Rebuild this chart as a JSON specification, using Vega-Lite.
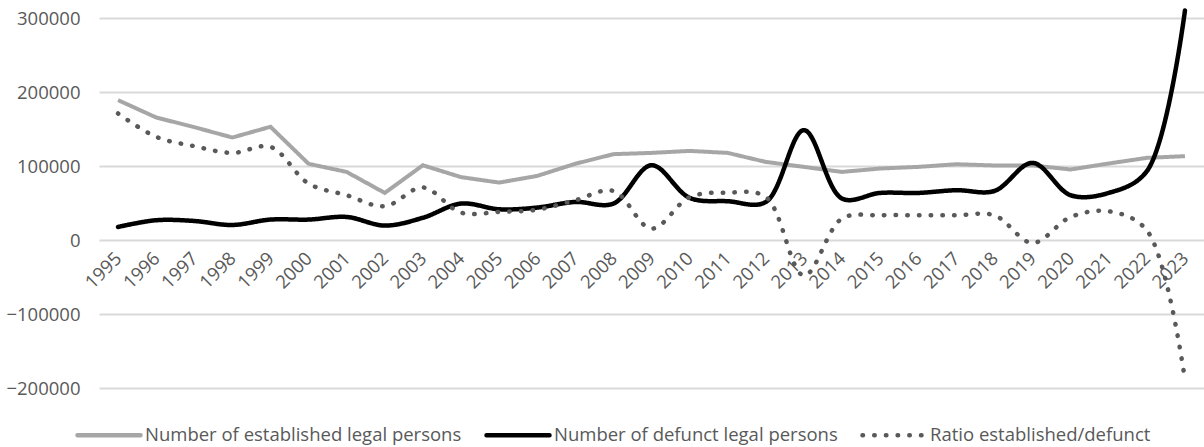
{
  "$schema": "https://vega.github.io/schema/vega-lite/v6.json",
  "width": 1105,
  "height": 370,
  "padding": {"left": 99, "top": 18, "right": 0, "bottom": 59},
  "autosize": {"type": "none"},
  "background": "white",
  "config": {
    "view": {"stroke": null},
    "font": "Open Sans",
    "axis": {"labelFont": "Open Sans", "labelColor": "#595959", "labelFontSize": 18.5}
  },
  "data": {
    "values": [
      {"year": "1995", "established": 189000, "defunct": 17600, "ratio": 171000},
      {"year": "1996", "established": 165600, "defunct": 26700, "ratio": 139400},
      {"year": "1997", "established": 152500, "defunct": 25700, "ratio": 126800},
      {"year": "1998", "established": 138500, "defunct": 20300, "ratio": 117700},
      {"year": "1999", "established": 153000, "defunct": 27600, "ratio": 125800},
      {"year": "2000", "established": 103000, "defunct": 27600, "ratio": 76300},
      {"year": "2001", "established": 92000, "defunct": 31100, "ratio": 60500},
      {"year": "2002", "established": 63600, "defunct": 19500, "ratio": 45600},
      {"year": "2003", "established": 101000, "defunct": 30000, "ratio": 71000},
      {"year": "2004", "established": 85000, "defunct": 49200, "ratio": 37000},
      {"year": "2005", "established": 77600, "defunct": 41500, "ratio": 38000},
      {"year": "2006", "established": 86600, "defunct": 43800, "ratio": 41000},
      {"year": "2007", "established": 103000, "defunct": 51400, "ratio": 53700},
      {"year": "2008", "established": 116000, "defunct": 49200, "ratio": 66300},
      {"year": "2009", "established": 117700, "defunct": 101000, "ratio": 15400},
      {"year": "2010", "established": 120400, "defunct": 57000, "ratio": 57800},
      {"year": "2011", "established": 117700, "defunct": 52400, "ratio": 64000},
      {"year": "2012", "established": 105500, "defunct": 51400, "ratio": 58200},
      {"year": "2013", "established": 98800, "defunct": 148400, "ratio": -48000},
      {"year": "2014", "established": 92000, "defunct": 56000, "ratio": 29000},
      {"year": "2015", "established": 96600, "defunct": 63600, "ratio": 33400},
      {"year": "2016", "established": 98800, "defunct": 63600, "ratio": 33400},
      {"year": "2017", "established": 102400, "defunct": 67300, "ratio": 33400},
      {"year": "2018", "established": 100700, "defunct": 66300, "ratio": 33400},
      {"year": "2019", "established": 100700, "defunct": 104200, "ratio": -4000},
      {"year": "2020", "established": 95300, "defunct": 60500, "ratio": 31100},
      {"year": "2021", "established": 103400, "defunct": 63600, "ratio": 38800},
      {"year": "2022", "established": 111000, "defunct": 93000, "ratio": 13000},
      {"year": "2023", "established": 113300, "defunct": 310000, "ratio": -188500}
    ]
  },
  "transform": [
    {"fold": ["established", "defunct", "ratio"], "as": ["key", "value"]},
    {"calculate": "datum.key === 'established' ? 'Number of established legal persons' : datum.key === 'defunct' ? 'Number of defunct legal persons' : 'Ratio established/defunct'", "as": "series"}
  ],
  "encoding": {
    "x": {
      "field": "year", "type": "ordinal", "title": null,
      "scale": {"type": "point", "padding": 0.5},
      "axis": {"orient": "bottom", "offset": -148, "labelAngle": -45, "labelAlign": "right", "labelBaseline": "middle", "labelPadding": 15, "ticks": false, "domain": false, "grid": false, "labelOverlap": false}
    },
    "y": {
      "field": "value", "type": "quantitative", "title": null,
      "scale": {"domain": [-200000, 300000], "nice": false, "zero": false},
      "axis": {"values": [-200000, -100000, 0, 100000, 200000, 300000], "format": "d", "ticks": false, "domain": false, "gridColor": "#d9d9d9", "gridWidth": 2, "labelPadding": 19}
    },
    "color": {
      "field": "series", "type": "nominal", "title": null,
      "sort": ["Number of established legal persons", "Number of defunct legal persons", "Ratio established/defunct"],
      "scale": {"domain": ["Number of established legal persons", "Number of defunct legal persons", "Ratio established/defunct"], "range": ["#a6a6a6", "#000000", "#595959"]},
      "legend": {
        "orient": "none", "direction": "horizontal", "legendX": -24, "legendY": 383,
        "symbolType": "stroke", "symbolSize": 3969, "symbolStrokeWidth": 4.5,
        "labelFont": "Open Sans", "labelFontSize": 18.5, "labelColor": "#595959", "labelLimit": 0,
        "labelOffset": 2, "columnPadding": 15, "padding": 0,
        "encode": {"symbols": {"update": {"strokeCap": {"value": "round"}}}}
      }
    },
    "strokeDash": {
      "field": "series", "type": "nominal", "title": null,
      "sort": ["Number of established legal persons", "Number of defunct legal persons", "Ratio established/defunct"],
      "scale": {"domain": ["Number of established legal persons", "Number of defunct legal persons", "Ratio established/defunct"], "range": [[1, 0], [1, 0], [0.5, 11.2]]}
    }
  },
  "layer": [
    {
      "transform": [{"filter": "datum.key === 'established'"}],
      "mark": {"type": "line", "strokeWidth": 4, "interpolate": "linear"}
    },
    {
      "transform": [{"filter": "datum.key !== 'established'"}],
      "mark": {"type": "line", "strokeWidth": 4.5, "interpolate": "catmull-rom", "strokeCap": "round"}
    }
  ]
}
